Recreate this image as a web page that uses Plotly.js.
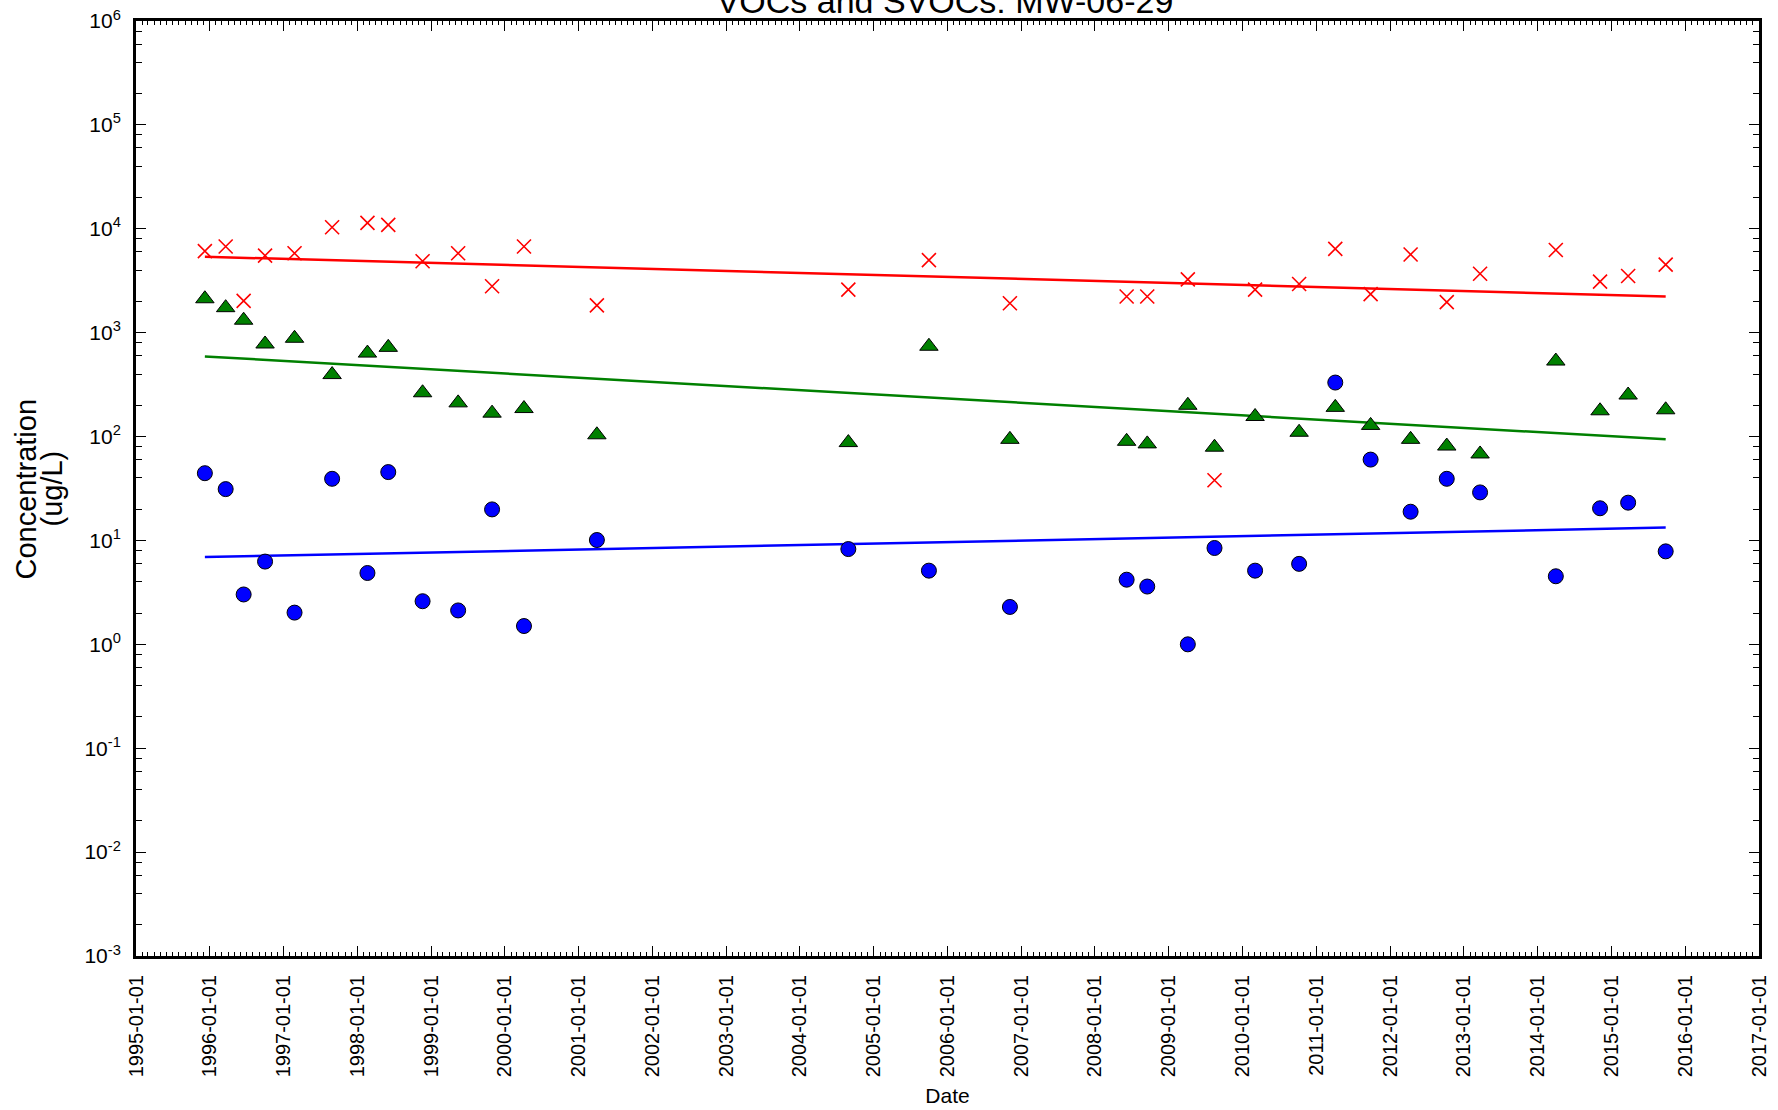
<!DOCTYPE html>
<html>
<head>
<meta charset="utf-8">
<script src="https://cdn.plot.ly/plotly-3.0.1.min.js"></script>
<style>html,body{margin:0;padding:0;background:#fff;}#chart{width:1778px;height:1110px;}</style>
</head>
<body>
<div id="chart"></div>
<script>
// Sample dates
const sampleDates = [
  '1995-12-08','1996-03-20','1996-06-17','1996-10-01','1997-02-24','1997-08-29',
  '1998-02-20','1998-06-03','1998-11-20','1999-05-15','1999-10-30','2000-04-05',
  '2001-04-01','2004-08-28','2005-10-01','2006-11-06','2008-06-06','2008-09-16',
  '2009-04-05','2009-08-15','2010-03-04','2010-10-08','2011-04-05','2011-09-27',
  '2012-04-12','2012-10-08','2013-03-22','2014-04-01','2014-11-06','2015-03-25',
  '2015-09-27'
];
// Red crosses (ug/L)
const redValues = [
  6100, 6750, 2020, 5520, 5810, 10350,
  11400, 10900, 4870, 5810, 2800, 6750,
  1830, 2600, 4990, 1920, 2230, 2230,
  3260, 38, 2600, 2940, 6410, 2350,
  5660, 1970, 3690, 6250, 3100, 3510,
  4520
];
// Green triangles (ug/L)
const greenValues = [
  2120, 1740, 1318, 778, 883, 395,
  636, 722, 264, 211, 168, 186,
  104, 87.5, 740, 94, 90, 85,
  200, 79, 156, 110, 191, 128,
  94, 81, 68, 533, 177, 251,
  181
];
// Blue circles (ug/L)
const blueValues = [
  44.4, 31.2, 3.02, 6.26, 2.02, 39.2,
  4.86, 45.5, 2.60, 2.12, 19.9, 1.50,
  10.1, 8.26, 5.12, 2.29, 4.19, 3.60,
  1.0, 8.46, 5.12, 5.95, 331, 60,
  18.9, 39.2, 29, 4.52, 20.4, 23.1,
  7.85
];
// Trend lines: end points
const trendDates = ['1995-12-08', '2015-09-27'];
const trendRed = [5380, 2230];
const trendGreen = [590, 94];
const trendBlue = [6.92, 13.3];
// Axis ticks and texts
const yDecades = [-3, -2, -1, 0, 1, 2, 3, 4, 5, 6];
const xRange = ['1995-01-01', '2017-01-01'];
const titleText = 'VOCs and SVOCs: MW-06-29';
const yTitleLines = ['Concentration', '(ug/L)'];
const xTitleText = 'Date';

const yTickVals = yDecades.map(p => Math.pow(10, p));
const yTickText = yDecades.map(p => '10<sup>' + (p < 0 ? '-' : '') + Math.abs(p) + '</sup>');
const yMinorVals = [];
yDecades.slice(0, -1).forEach(p => { [2, 4, 6, 8].forEach(m => yMinorVals.push(m * Math.pow(10, p))); });

const FONT = 'Liberation Sans, Arial, Helvetica, sans-serif';
const W = 1778, H = 1110;
const M = {l: 136, r: 19, t: 21, b: 154};
const plotW = W - M.l - M.r;
const px2paperX = px => (px - M.l) / plotW;

const traces = [
  {x: trendDates, y: trendRed, mode: 'lines', line: {color: '#ff0000', width: 2.5}, hoverinfo: 'skip'},
  {x: trendDates, y: trendGreen, mode: 'lines', line: {color: '#008000', width: 2.5}, hoverinfo: 'skip'},
  {x: trendDates, y: trendBlue, mode: 'lines', line: {color: '#0000ff', width: 2.5}, hoverinfo: 'skip'},
  {x: sampleDates, y: redValues, mode: 'markers', name: 'red',
   marker: {symbol: 'x-thin', size: 14, color: '#ff0000', line: {color: '#ff0000', width: 1.6}}},
  {x: sampleDates, y: greenValues, mode: 'markers', name: 'green',
   marker: {symbol: 'triangle-up', size: 16, color: '#008000', line: {color: '#000000', width: 1}}},
  {x: sampleDates, y: blueValues, mode: 'markers', name: 'blue',
   marker: {symbol: 'circle', size: 15, color: '#0000ff', line: {color: '#000000', width: 1}}}
];

const layout = {
  width: W, height: H,
  margin: M,
  paper_bgcolor: '#ffffff', plot_bgcolor: '#ffffff',
  showlegend: false,
  font: {family: FONT, color: '#000000', size: 20},
  title: {text: titleText, font: {family: FONT, size: 34, color: '#000'},
          x: 0.5315, xref: 'container', xanchor: 'center', y: 0.988, yref: 'container', yanchor: 'bottom'},
  xaxis: {
    type: 'date', range: xRange,
    tickmode: 'linear', tick0: '1995-01-01', dtick: 'M12', tickformat: '%Y-%m-%d',
    tickangle: -90, tickfont: {family: FONT, size: 20, color: '#000'},
    ticks: 'inside', ticklen: 10, tickwidth: 1, tickcolor: '#000',
    minor: {dtick: 'M1', ticks: 'inside', ticklen: 4, tickwidth: 1, tickcolor: '#000', showgrid: false},
    showline: true, linewidth: 3, linecolor: '#000', mirror: 'allticks',
    showgrid: false, zeroline: false, ticklabelstandoff: 8,
    title: {text: xTitleText, font: {family: FONT, size: 21, color: '#000'}, standoff: 12}
  },
  yaxis: {
    type: 'log', range: [-3, 6],
    tickmode: 'array', tickvals: yTickVals, ticktext: yTickText,
    tickfont: {family: FONT, size: 21, color: '#000'},
    ticks: 'inside', ticklen: 10, tickwidth: 1, tickcolor: '#000',
    minor: {tickmode: 'array', tickvals: yMinorVals, ticks: 'inside', ticklen: 6, tickwidth: 1, tickcolor: '#000', showgrid: false},
    showline: true, linewidth: 3, linecolor: '#000', mirror: 'allticks',
    showgrid: false, zeroline: false, ticklabelstandoff: 8
  },
  annotations: [
    {text: yTitleLines[0], xref: 'paper', yref: 'paper', x: px2paperX(25), y: 0.5,
     xanchor: 'center', yanchor: 'middle', textangle: -90, showarrow: false,
     font: {family: FONT, size: 29, color: '#000'}},
    {text: yTitleLines[1], xref: 'paper', yref: 'paper', x: px2paperX(51), y: 0.5,
     xanchor: 'center', yanchor: 'middle', textangle: -90, showarrow: false,
     font: {family: FONT, size: 29, color: '#000'}}
  ]
};

Plotly.newPlot('chart', traces, layout, {displayModeBar: false, staticPlot: true});
</script>
</body>
</html>
